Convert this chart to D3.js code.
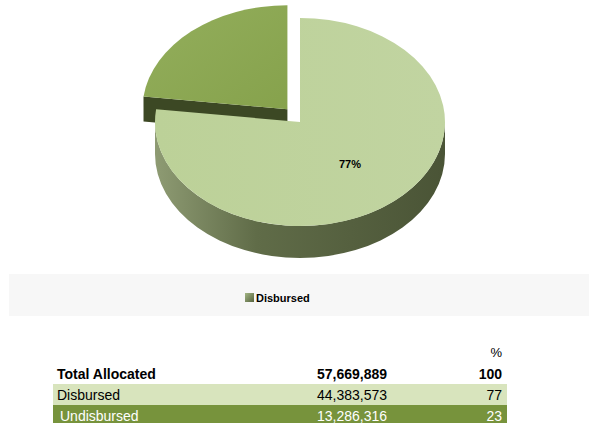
<!DOCTYPE html>
<html>
<head>
<meta charset="utf-8">
<script src="https://cdn.jsdelivr.net/npm/d3@7"></script>
<style>
  body { margin: 0; background: #fff; }
  svg { display: block; font-family: "Liberation Sans", Arial, sans-serif; }
</style>
</head>
<body>
<svg id="chart" width="589" height="423"></svg>
<script>
// chart data
const categories = ['Disbursed', 'Undisbursed'];
const amounts = [44383573, 13286316];
const percents = [77, 23];
const legendItems = ['Disbursed'];

// table data
const rowLabels = ['Total Allocated', 'Disbursed', ' Undisbursed'];
const rowAmounts = [57669889, 44383573, 13286316];
const rowPercents = [100, 77, 23];

const svg = d3.select('#chart');
const W = 589;

// pie geometry
const cx = 300, cy = 122, rx = 145, ry = 104, depth = 32, explode = 19;

const pie = d3.pie().sort(null).value(d => d)(amounts);
const fmt = d3.format(',');

const defs = svg.append('defs');
const sideGrad = defs.append('linearGradient').attr('id', 'side-grad');
sideGrad.append('stop').attr('offset', '0%').attr('stop-color', '#8e9b73');
sideGrad.append('stop').attr('offset', '35%').attr('stop-color', '#606c48');
sideGrad.append('stop').attr('offset', '100%').attr('stop-color', '#4a5436');

const topGrad = defs.append('linearGradient').attr('id', 'top-grad')
    .attr('x1', '0%').attr('y1', '0%').attr('x2', '100%').attr('y2', '0%');
topGrad.append('stop').attr('offset', '0%').attr('stop-color', '#bcd198');
topGrad.append('stop').attr('offset', '100%').attr('stop-color', '#c1d4a1');

const expGrad = defs.append('linearGradient').attr('id', 'exp-grad')
    .attr('x1', '0%').attr('y1', '0%').attr('x2', '100%').attr('y2', '100%');
expGrad.append('stop').attr('offset', '0%').attr('stop-color', '#93ae5c');
expGrad.append('stop').attr('offset', '100%').attr('stop-color', '#86a24c');

const legGrad = defs.append('linearGradient').attr('id', 'leg-grad')
    .attr('x1', '0%').attr('y1', '0%').attr('x2', '100%').attr('y2', '100%');
legGrad.append('stop').attr('offset', '0%').attr('stop-color', '#a3b685');
legGrad.append('stop').attr('offset', '100%').attr('stop-color', '#56633e');

const pt = (a, ox, oy, dy = 0) => [ox + rx * Math.sin(a), oy - ry * Math.cos(a) + dy];

function topPath(d, ox, oy) {
    const p0 = pt(d.startAngle, ox, oy), p1 = pt(d.endAngle, ox, oy);
    const large = d.endAngle - d.startAngle > Math.PI ? 1 : 0;
    return `M${ox},${oy}L${p0}A${rx},${ry} 0 ${large} 1 ${p1}Z`;
}

function outerWall(d, ox, oy) {
    const a0 = Math.max(d.startAngle, Math.PI / 2);
    const a1 = Math.min(d.endAngle, Math.PI * 1.5);
    if (a1 <= a0) return null;
    const p0 = pt(a0, ox, oy), p1 = pt(a1, ox, oy);
    const q1 = pt(a1, ox, oy, depth), q0 = pt(a0, ox, oy, depth);
    return `M${p0}A${rx},${ry} 0 0 1 ${p1}L${q1}A${rx},${ry} 0 0 0 ${q0}Z`;
}

function radialWall(a, ox, oy, h) {
    const p = pt(a, ox, oy);
    return `M${ox},${oy}L${p}L${p[0]},${p[1] + h}L${ox},${oy + h}Z`;
}

const offsets = pie.map((d, i) => {
    if (i === 0) return [0, 0];
    const mid = (d.startAngle + d.endAngle) / 2;
    return [explode * Math.sin(mid), -explode * Math.cos(mid) * 0.9];
});

const pieG = svg.append('g');

// exploded slice (drawn first, sits behind)
const e = pie[1], eo = offsets[1];
pieG.append('path')
    .attr('d', radialWall(e.startAngle, cx + eo[0], cy + eo[1], 25))
    .attr('fill', '#3c4824');
pieG.append('path')
    .attr('d', topPath(e, cx + eo[0], cy + eo[1]))
    .attr('fill', 'url(#exp-grad)');

// main slice
const m = pie[0];
const wall = outerWall(m, cx, cy);
if (wall) pieG.append('path').attr('d', wall).attr('fill', 'url(#side-grad)');
pieG.append('path')
    .attr('d', topPath(m, cx, cy))
    .attr('fill', 'url(#top-grad)');

// label
pieG.append('text')
    .attr('x', 350)
    .attr('y', 168)
    .attr('text-anchor', 'middle')
    .attr('font-size', '11px')
    .attr('font-weight', 'bold')
    .attr('fill', '#000')
    .text(percents[0] + '%');

// legend
svg.append('rect')
    .attr('x', 9).attr('y', 274)
    .attr('width', W - 9).attr('height', 42)
    .attr('fill', '#f7f7f7');

const legend = svg.append('g').attr('transform', 'translate(245,293)');
legendItems.forEach((name, i) => {
    legend.append('rect')
        .attr('x', 0).attr('y', 0)
        .attr('width', 9).attr('height', 9)
        .attr('fill', 'url(#leg-grad)');
    legend.append('text')
        .attr('x', 11).attr('y', 9)
        .attr('font-size', '11px')
        .attr('font-weight', 'bold')
        .attr('fill', '#000')
        .text(name);
});

// table
const rowY = d3.scaleBand()
    .domain(rowLabels)
    .range([363, 426])
    .padding(0);

const rowFill = ['none', '#d8e4bd', '#77933c'];
const rowText = ['#000', '#000', '#fff'];

svg.append('text')
    .attr('x', 502).attr('y', 357)
    .attr('text-anchor', 'end')
    .attr('font-size', '13px')
    .text('%');

const rows = svg.append('g').selectAll('g')
    .data(rowLabels)
    .enter()
    .append('g')
    .attr('transform', d => `translate(0,${rowY(d)})`);

rows.append('rect')
    .attr('x', 53).attr('y', 0)
    .attr('width', 454).attr('height', rowY.bandwidth())
    .attr('fill', (d, i) => rowFill[i]);

rows.append('text')
    .attr('x', (d, i) => i === 2 ? 60 : 57)
    .attr('y', 16)
    .attr('font-size', '14px')
    .attr('font-weight', (d, i) => i === 0 ? 'bold' : 'normal')
    .attr('fill', (d, i) => rowText[i])
    .text(d => d.trim());

rows.append('text')
    .attr('x', 387)
    .attr('y', 16)
    .attr('text-anchor', 'end')
    .attr('font-size', '14px')
    .attr('font-weight', (d, i) => i === 0 ? 'bold' : 'normal')
    .attr('fill', (d, i) => rowText[i])
    .text((d, i) => fmt(rowAmounts[i]));

rows.append('text')
    .attr('x', 502)
    .attr('y', 16)
    .attr('text-anchor', 'end')
    .attr('font-size', '14px')
    .attr('font-weight', (d, i) => i === 0 ? 'bold' : 'normal')
    .attr('fill', (d, i) => rowText[i])
    .text((d, i) => rowPercents[i]);
</script>
</body>
</html>
